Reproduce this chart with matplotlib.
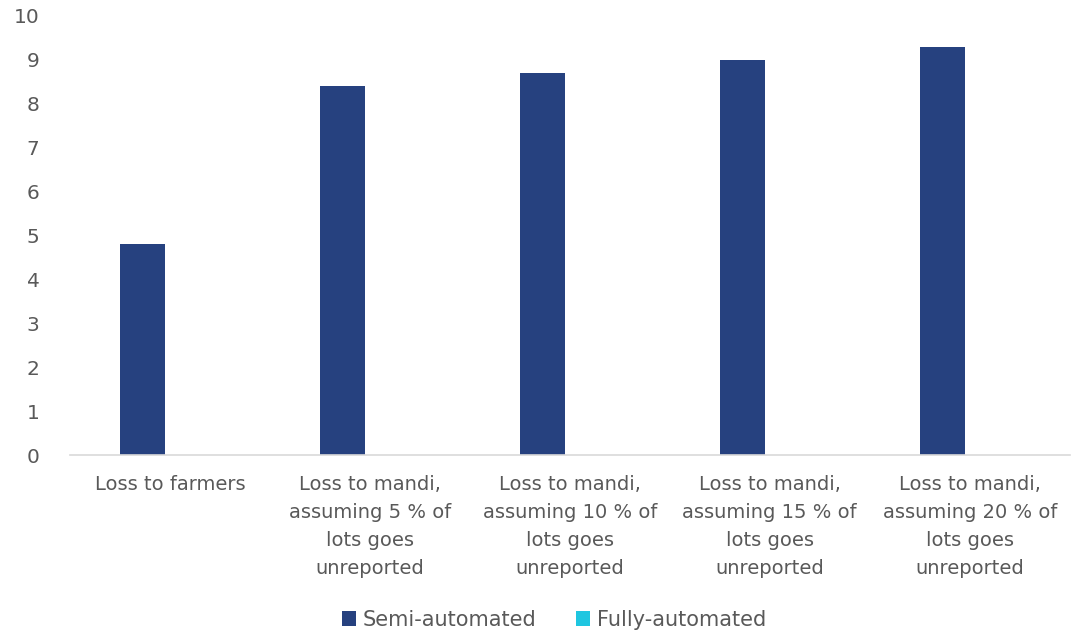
import numpy as np
import matplotlib.pyplot as plt

# data
categories = [
    "Loss to farmers",
    "Loss to mandi,\nassuming 5 % of\nlots goes\nunreported",
    "Loss to mandi,\nassuming 10 % of\nlots goes\nunreported",
    "Loss to mandi,\nassuming 15 % of\nlots goes\nunreported",
    "Loss to mandi,\nassuming 20 % of\nlots goes\nunreported",
]
semi_automated = [4.8, 8.4, 8.7, 9.0, 9.3]
fully_automated = [0, 0, 0, 0, 0]
yticks = list(range(0, 11))

text_col = "#595959"
plt.rcParams['font.family'] = ['DejaVu Sans']
fs = 14

fig = plt.figure(figsize=(10.86, 6.33), dpi=100)
ax = fig.add_axes([0.0645, 0.281, 0.9205, 0.694])

x = np.arange(len(categories))
w = 0.225
ax.bar(x - 0.137, semi_automated, w, color="#26417F", label="Semi-automated")
ax.bar(x + 0.137, fully_automated, w, color="#1FC6E0", label="Fully-automated")

ax.set_xlim(-0.5, len(categories) - 0.5)
ax.set_ylim(0, 10)
ax.set_yticks(yticks)
ax.set_xticks(x)
ax.set_xticklabels(categories, fontsize=fs, color=text_col, linespacing=1.62)
ax.tick_params(axis='y', labelsize=fs + 0.5, labelcolor=text_col, length=0, pad=22)
ax.tick_params(axis='x', length=0, pad=14)

for s in ["top", "right", "left"]:
    ax.spines[s].set_visible(False)
ax.spines["bottom"].set_color("#D9D9D9")
ax.spines["bottom"].set_linewidth(1.2)

leg = fig.legend(loc="lower center", bbox_to_anchor=(0.51, -0.025), ncol=2,
                 frameon=False, fontsize=15, handlelength=0.7, handleheight=0.7,
                 handletextpad=0.3, columnspacing=1.9)
for t in leg.get_texts():
    t.set_color(text_col)

fig.savefig("out.png", dpi=100)
